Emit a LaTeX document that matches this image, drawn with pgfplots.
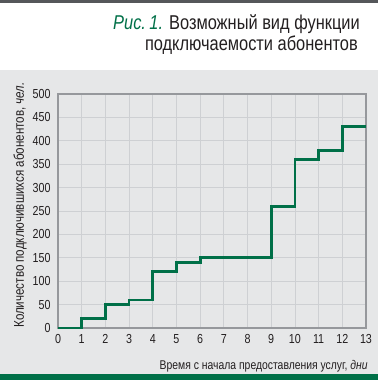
\documentclass[border=0pt]{standalone}
\usepackage{fontspec}
\setmainfont{Liberation Sans}[FakeStretch=0.82]
\usepackage{pgfplots}
\pgfplotsset{compat=1.18}
\definecolor{bg}{RGB}{230,231,232}
\definecolor{grn}{RGB}{0,112,72}
\definecolor{gridc}{RGB}{206,208,211}
\definecolor{axc}{RGB}{150,152,156}
\definecolor{topc}{RGB}{85,87,90}
\definecolor{txt}{RGB}{35,31,32}
\begin{document}
\begin{tikzpicture}[x=0.75pt,y=0.75pt]
\fill[white] (0,0) rectangle (378,380);
\fill[bg] (0,6) rectangle (378,310);
\fill[grn] (0,0) rectangle (378,6);
\fill[topc] (0,377.5) rectangle (378,380);
\node[anchor=base east, inner sep=0pt, font=\fontsize{15}{16}\selectfont, text=txt] at (360,351) {\textcolor{grn}{\itshape Рис.\,1.} Возможный вид функции};
\node[anchor=base east, inner sep=0pt, font=\fontsize{15}{16}\selectfont, text=txt] at (358,330) {подключаемости абонентов};
\node[anchor=base east, inner sep=0pt, font=\fontsize{9.5}{10}\selectfont, text=txt] at (368,11) {Время с начала предоставления услуг, \textit{дни}};
\node[anchor=base west, rotate=90, inner sep=0pt, font=\fontsize{10.6}{11}\selectfont, text=txt] at (24,52) {Количество подключившихся абонентов, \textit{чел.}};
\begin{axis}[at={(43.5pt,39pt)}, anchor=south west, scale only axis,
  width=231pt, height=175.5pt,
  xmin=0, xmax=13, ymin=0, ymax=500,
  xtick={0,1,...,13}, ytick={0,50,...,500},
  grid=major, grid style={gridc, line width=0.6pt},
  axis line style={axc, line width=0.8pt},
  major tick length=0pt, clip=false,
  /pgf/number format/assume math mode=true,
  tick label style={font=\fontsize{9.8}{10}\selectfont, text=txt},
  xticklabel style={yshift=-1pt},
  yticklabel style={xshift=-2pt}]
\addplot[const plot, grn, line width=2.1pt] coordinates {
(0,0) (1,20) (2,50) (3,60) (4,120) (5,140) (6,150) (7,150) (8,150) (9,260) (10,360) (11,380) (12,430) (13,430)};
\end{axis}
\end{tikzpicture}
\end{document}
